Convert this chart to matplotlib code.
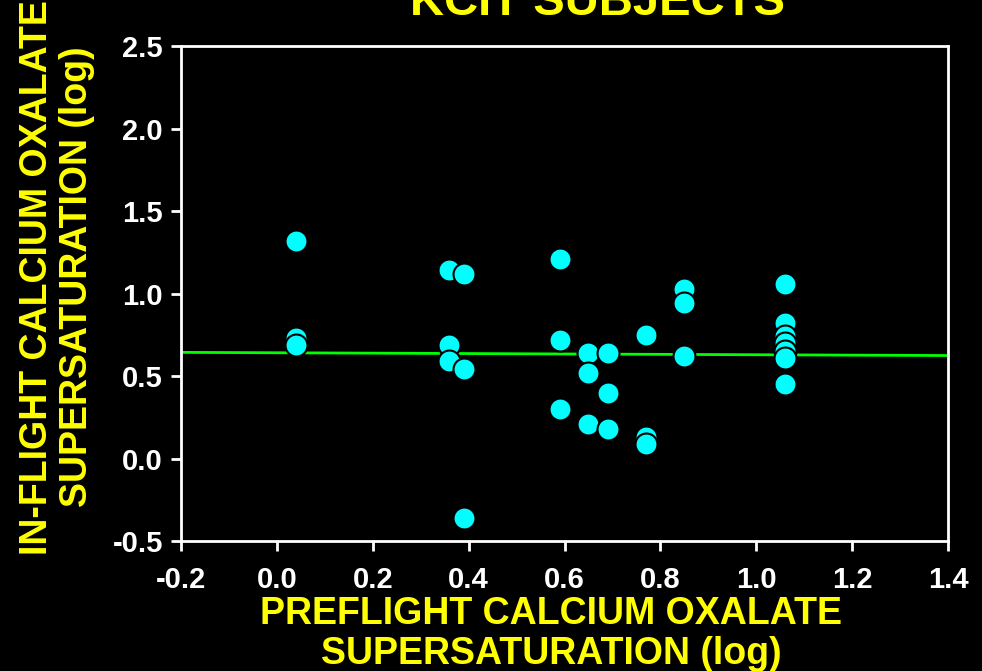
import numpy as np
import matplotlib
matplotlib.use("Agg")
import matplotlib.pyplot as plt

plt.rcParams['font.family'] = ['Liberation Sans', 'DejaVu Sans']

# Preflight vs in-flight calcium oxalate supersaturation (log), KCIT subjects
preflight = [0.04, 0.04, 0.04,
             0.36, 0.36, 0.36,
             0.39, 0.39, 0.39,
             0.59, 0.59, 0.59,
             0.65, 0.65, 0.65,
             0.69, 0.69, 0.69,
             0.77, 0.77, 0.77,
             0.85, 0.85, 0.85,
             1.06, 1.06, 1.06, 1.06, 1.06, 1.06, 1.06]
inflight = [1.32, 0.73, 0.69,
            1.14, 0.69, 0.59,
            1.12, 0.54, -0.36,
            1.21, 0.72, 0.30,
            0.64, 0.52, 0.21,
            0.64, 0.40, 0.18,
            0.75, 0.13, 0.09,
            1.03, 0.94, 0.62,
            1.06, 0.82, 0.74, 0.70, 0.65, 0.61, 0.45]

# Regression line (intercept, slope)
fit_intercept = 0.641
fit_slope = -0.012

x_ticks = [-0.2, 0.0, 0.2, 0.4, 0.6, 0.8, 1.0, 1.2, 1.4]
y_ticks = [-0.5, 0.0, 0.5, 1.0, 1.5, 2.0, 2.5]

title = "KCIT SUBJECTS"
x_label = "PREFLIGHT CALCIUM OXALATE\nSUPERSATURATION (log)"
y_label = "IN-FLIGHT CALCIUM OXALATE\nSUPERSATURATION (log)"

fig = plt.figure(figsize=(9.82, 6.71), dpi=100, facecolor="black")
ax = fig.add_axes([0.1843, 0.1937, 0.7811, 0.7377], facecolor="black")

xs = np.array([x_ticks[0], x_ticks[-1]])
ax.plot(xs, fit_intercept + fit_slope * xs, color="#00ff00", lw=2, zorder=2)

ax.scatter(preflight, inflight, s=250, color="#00ffff", edgecolors="black",
           linewidths=1.5, zorder=3)

ax.set_xlim(x_ticks[0], x_ticks[-1])
ax.set_ylim(y_ticks[0], y_ticks[-1])
ax.set_xticks(x_ticks)
ax.set_yticks(y_ticks)
ax.set_xticklabels([f"{v:.1f}" for v in x_ticks])
ax.set_yticklabels([f"{v:.1f}" for v in y_ticks])

for s in ax.spines.values():
    s.set_color("white")
    s.set_linewidth(2)
ax.tick_params(colors="white", direction="out", length=7, width=2,
               labelsize=21, pad=11)
ax.tick_params(axis="y", pad=6)
for lab in ax.get_xticklabels() + ax.get_yticklabels():
    lab.set_fontweight("bold")

fig.text(0.608, 0.995, title, color="#ffff00", fontsize=34, fontweight="bold",
         ha="center", va="center")
fig.text(0.561, 0.055, x_label, color="#ffff00", fontsize=27, fontweight="bold",
         ha="center", va="center", linespacing=1.12)
fig.text(0.058, 0.587, y_label, color="#ffff00", fontsize=27, fontweight="bold",
         ha="center", va="center", rotation=90, linespacing=1.12)

fig.savefig("out.png", dpi=100, facecolor="black")
